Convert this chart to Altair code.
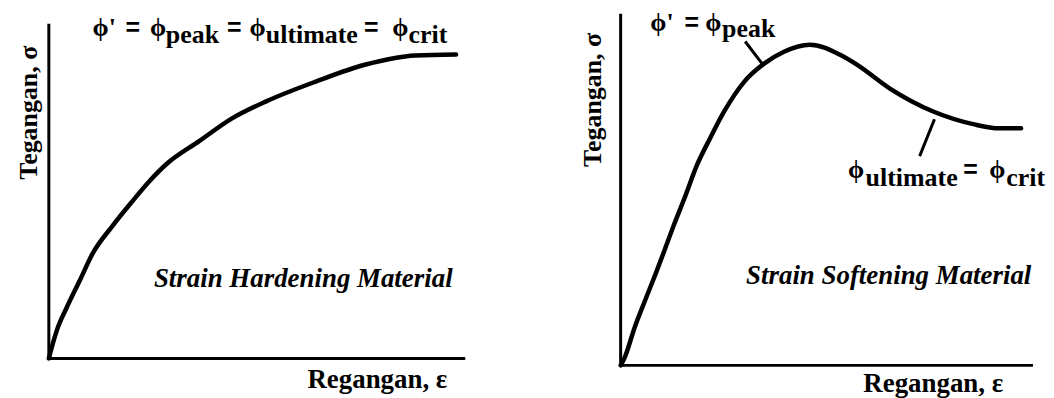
import altair as alt
import pandas as pd

# ---- data (normalised strain / stress, 0-100 along each axis) ----
hard_strain = [0, 0.7, 1.9, 4.3, 7.4, 10.5, 15.3, 20.1, 24.2, 28.2, 36.1, 44.0, 52.2, 64.1, 76.1, 88.0, 97.8]
hard_stress = [0, 3.3, 8.3, 15.2, 23.2, 31.3, 39.6, 47.0, 53.0, 58.0, 64.9, 71.7, 76.8, 82.7, 87.8, 90.5, 90.8]

soft_strain = [0, 1.0, 3.4, 5.8, 8.5, 10.6, 13.0, 15.5, 18.6, 21.7, 25.1, 30.0, 34.8, 39.6, 45.9,
               53.1, 57.2, 65.2, 75.8, 85.5, 91.8, 97.1]
soft_stress = [0, 2.3, 10.8, 18.1, 26.1, 32.6, 40.2, 47.6, 57.2, 64.6, 72.2, 80.7, 85.8, 89.2, 91.2,
               88.4, 85.6, 78.8, 72.2, 68.6, 67.4, 67.4]

x_title = "Regangan, ε"
y_title = "Tegangan, σ"
left_label = "Strain Hardening Material"
right_label = "Strain Softening Material"

# formula pieces: (text, x, y) in the panel's data units
left_main = [("ϕ'", 10.5, 96.4), ("ϕ", 24.3, 96.4), ("ϕ", 48.2, 96.4), ("ϕ", 82.5, 96.4)]
left_eq = [("=", 18.4, 96.4), ("=", 42.8, 96.4), ("=", 75.7, 96.4)]
left_sub = [("peak", 28.1, 94.3), ("ultimate", 52.1, 94.3), ("crit", 86.4, 94.3)]

right_main = [("ϕ'", 7.2, 95.2), ("ϕ", 20.5, 95.2), ("ϕ", 55.1, 53.3), ("ϕ", 89.4, 53.3)]
right_eq = [("=", 15.5, 95.2), ("=", 83.1, 53.3)]
right_sub = [("peak", 24.6, 93.3), ("ultimate", 59.4, 51.0), ("crit", 93.5, 51.0)]

# leader lines (x, y, x2, y2) in data units
right_leaders = [(30.2, 92.1, 34.3, 85.8), (76.1, 70.0, 72.5, 59.5)]

SERIF = "Liberation Serif, DejaVu Serif, serif"
SANS = "Liberation Sans, Arial, sans-serif"


def tdf(items):
    return pd.DataFrame(items, columns=["t", "x", "y"])


def panel(strain, stress, xr, yr, W, H, main, eq, sub, leaders,
          label, label_pos, xt_pos, yt_pos):
    xs = alt.Scale(domain=[0, 100], range=xr, nice=False, zero=False)
    ys = alt.Scale(domain=[0, 100], range=yr, nice=False, zero=False)
    X = alt.X("x:Q", scale=xs, axis=None)
    Y = alt.Y("y:Q", scale=ys, axis=None)

    axes_df = pd.DataFrame({"x": [0, 0], "y": [0, 0], "x2": [0, 100], "y2": [100, 0]})
    axes = alt.Chart(axes_df).mark_rule(color="black", strokeWidth=3).encode(
        x=X, y=Y, x2="x2:Q", y2="y2:Q")

    curve_df = pd.DataFrame({"x": strain, "y": stress})
    curve = alt.Chart(curve_df).mark_line(
        color="black", strokeWidth=4.5, interpolate="monotone", strokeCap="round"
    ).encode(x=X, y=Y)

    layers = [axes, curve]

    if leaders:
        ldf = pd.DataFrame(leaders, columns=["x", "y", "x2", "y2"])
        layers.append(alt.Chart(ldf).mark_rule(color="black", strokeWidth=3).encode(
            x=X, y=Y, x2="x2:Q", y2="y2:Q"))

    def text_layer(items, **kw):
        return alt.Chart(tdf(items)).mark_text(color="black", baseline="alphabetic", **kw).encode(
            x=X, y=Y, text="t:N")

    layers.append(text_layer(main, font=SERIF, fontSize=26, fontWeight="bold", align="left"))
    layers.append(text_layer(eq, font=SANS, fontSize=25, fontWeight="bold", align="left"))
    layers.append(text_layer(sub, font=SERIF, fontSize=26, fontWeight="bold", align="left"))
    layers.append(text_layer([(label,) + label_pos], font=SERIF, fontSize=27, fontWeight="bold",
                             fontStyle="italic", align="center"))
    layers.append(text_layer([(x_title,) + xt_pos], font=SERIF, fontSize=27, fontWeight="bold",
                             align="center"))
    layers.append(text_layer([(y_title,) + yt_pos], font=SERIF, fontSize=26, fontWeight="bold",
                             align="center", angle=270))

    return alt.layer(*layers).properties(width=W, height=H)


left = panel(hard_strain, hard_stress, [41, 459], [350, 14], 518, 382,
             left_main, left_eq, left_sub, None,
             left_label, (61.1, 21.4), (78.9, -8.9), (-2.9, 73.4))

right = panel(soft_strain, soft_stress, [97, 511], [357, 4], 520, 382,
              right_main, right_eq, right_sub, right_leaders,
              right_label, (65.0, 23.2), (75.8, -7.6), (-4.8, 75.5))

chart = alt.hconcat(left, right, spacing=0).properties(
    padding=0, background="white"
).configure_view(stroke=None)

chart.save("out.html", embed_options={"renderer": "svg", "actions": False})
